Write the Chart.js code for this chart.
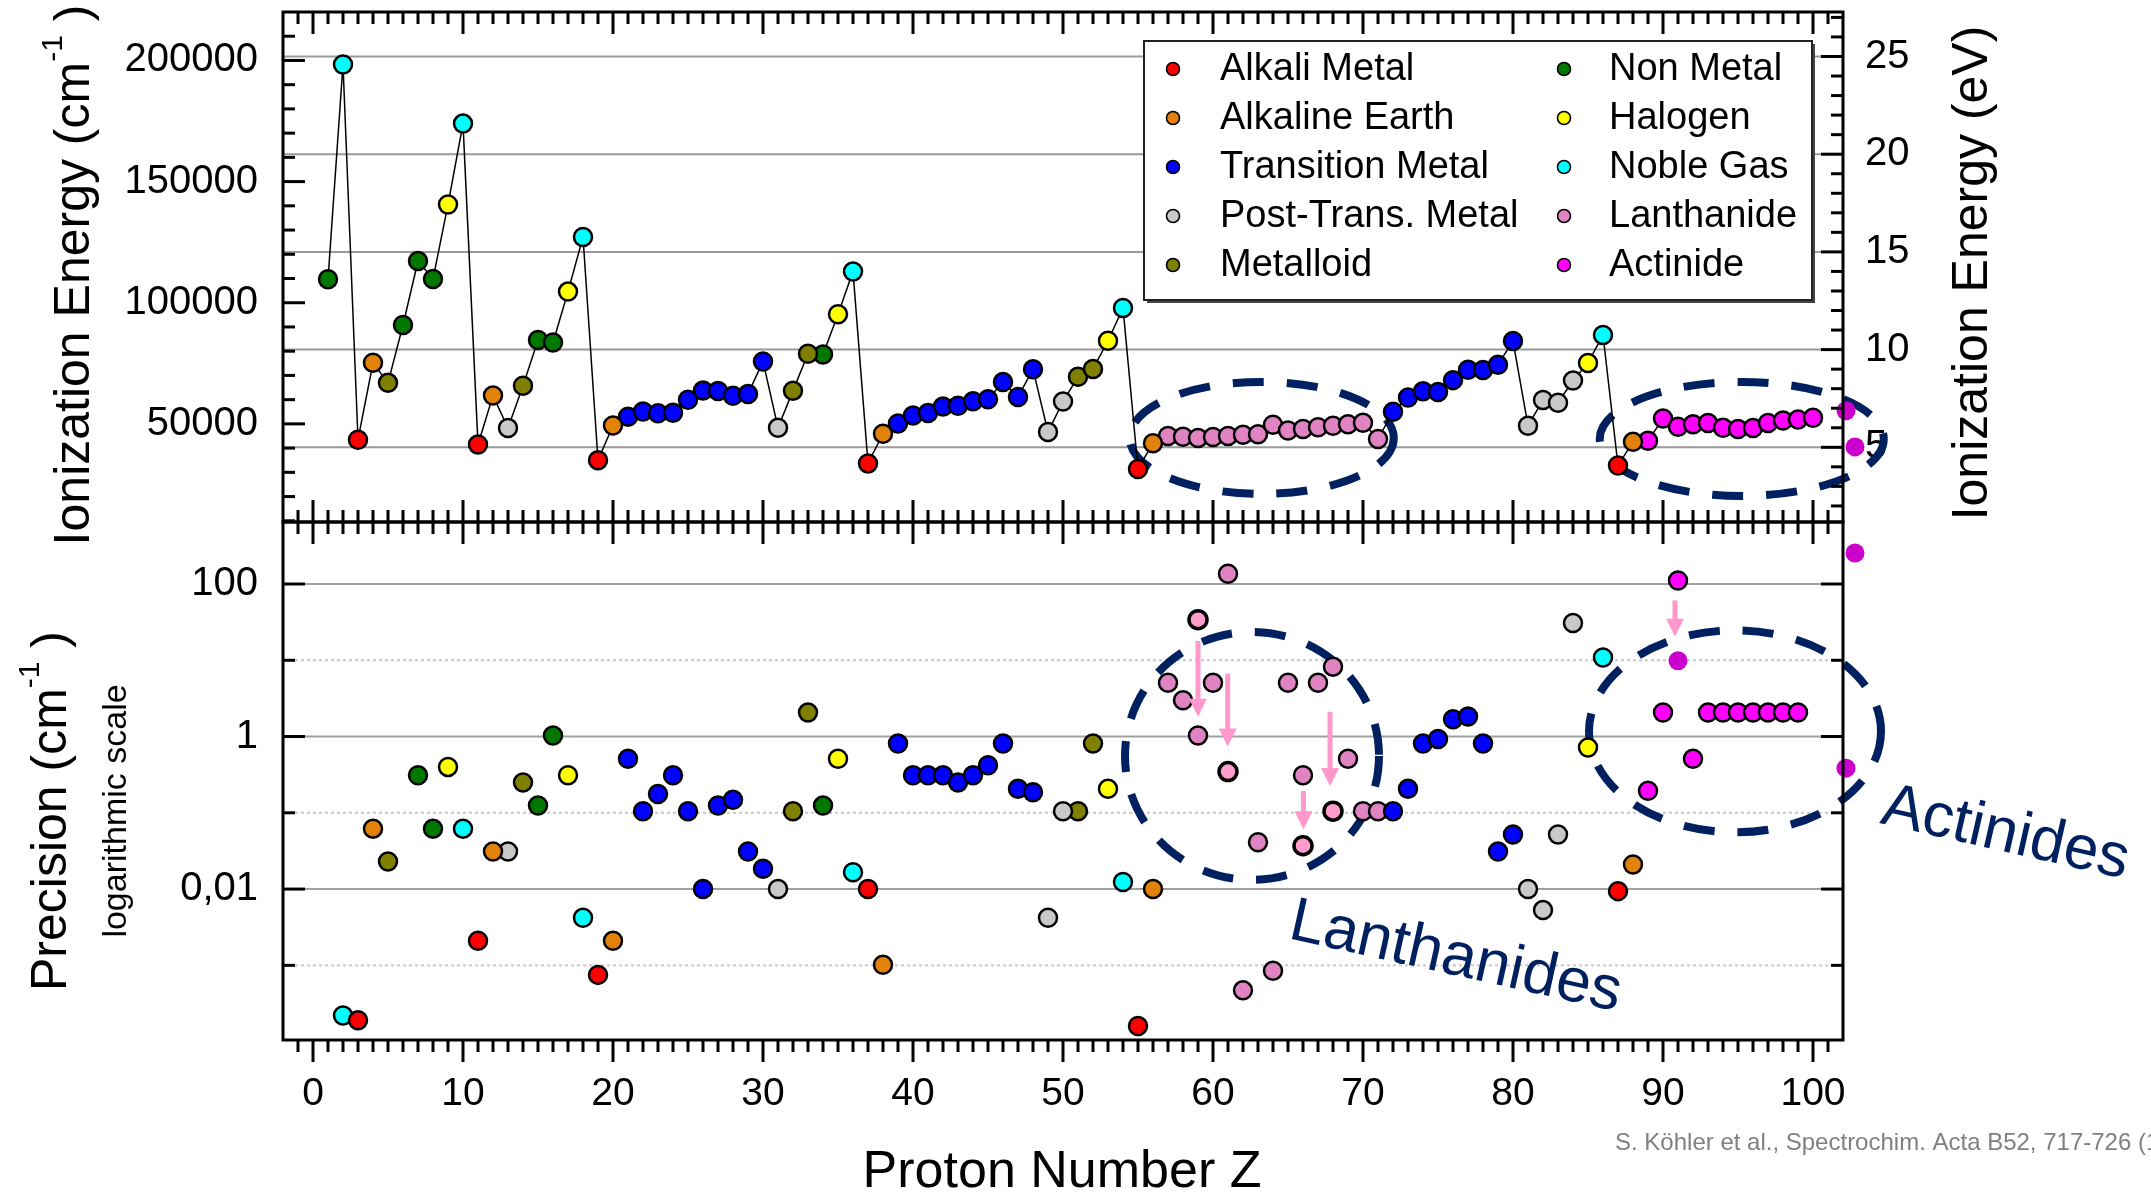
<!DOCTYPE html>
<html>
<head>
<meta charset="utf-8">
<script src="https://cdn.jsdelivr.net/npm/chart.js@4.4.0/dist/chart.umd.min.js"></script>
<style>
  html, body { margin: 0; padding: 0; background: #fff; }
  #wrap { position: relative; width: 2151px; height: 1196px; overflow: hidden; background: #fff; }
  #wrap canvas { position: absolute; left: 0; top: 0; }
</style>
</head>
<body>
<div id="wrap">
  <canvas id="precisionChart" width="2151" height="1196"></canvas>
  <canvas id="energyChart" width="2151" height="1196"></canvas>
</div>
<script>
// first ionization energy (cm-1) for Z = 1 .. 100
const ionizationEnergy = [
  109679, 198311, 43487, 75193, 66928, 90820, 117226, 109837, 140525, 173930,
  41449, 61671, 48278, 65748, 84581, 83559, 104591, 127110, 35010, 49306,
  52922, 55072, 54412, 54576, 59960, 63737, 63565, 61619, 62317, 75769,
  48388, 63713, 78950, 78658, 95284, 112915, 33691, 45932, 50146, 53507,
  54513, 57204, 57500, 59366, 60160, 67236, 61106, 72540, 46670, 59232,
  69431, 72670, 84295, 97834, 31406, 42035, 44981, 44672, 44140, 44562,
  45020, 45520, 45735, 49601, 47295, 47902, 48567, 49262, 49880, 50443,
  43763, 55048, 60891, 63428, 63182, 68058, 72324, 72258, 74409, 84184,
  49266, 59819, 58762, 67896, 75150, 86693, 32849, 42573, 43000, 52200,
  48800, 49800, 50400, 48400, 47900, 48300, 50400, 51400, 51800, 52500
];

// measurement precision (cm-1) for Z = 1 .. 100, null = not measured
const precision = [
  null, 2.2e-4, 1.9e-4, 0.062, 0.023, null, 0.31, 0.062, 0.40, 0.062,
  0.0021, 0.031, 0.031, 0.25, 0.125, 1.03, 0.31, 0.0042, 7.5e-4, 0.0021,
  0.51, 0.105, 0.176, 0.31, 0.105, 0.010, 0.125, 0.148, 0.031, 0.0185,
  0.010, 0.105, 2.07, 0.125, 0.51, 0.0166, 0.010, 0.00102, 0.81, 0.31,
  0.31, 0.31, 0.25, 0.31, 0.42, 0.81, 0.206, 0.186, 0.0042, 0.105,
  0.105, 0.81, 0.206, 0.0124, 1.6e-4, 0.010, 5.06, 3.0, 1.03, 5.06,
  136, 4.7e-4, 0.041, 8.5e-4, 5.06, 0.31, 5.06, 8.25, 0.51, 0.105,
  0.105, 0.105, 0.206, 0.81, 0.93, 1.68, 1.83, 0.81, 0.031, 0.052,
  0.010, 0.0053, 0.052, 30.9, 0.72, 10.9, 0.0094, 0.021, 0.195, 2.07,
  111, 0.51, 2.07, 2.07, 2.07, 2.07, 2.07, 2.07, 2.07, null
];

// element family for Z = 1 .. 100
const family = [
  'nm','ng','am','ae','md','nm','nm','nm','ha','ng',
  'am','ae','pt','md','nm','nm','ha','ng','am','ae',
  'tm','tm','tm','tm','tm','tm','tm','tm','tm','tm',
  'pt','md','md','nm','ha','ng','am','ae','tm','tm',
  'tm','tm','tm','tm','tm','tm','tm','tm','pt','pt',
  'md','md','ha','ng','am','ae','la','la','la','la',
  'la','la','la','la','la','la','la','la','la','la',
  'la','tm','tm','tm','tm','tm','tm','tm','tm','tm',
  'pt','pt','pt','pt','ha','ng','am','ae','ac','ac',
  'ac','ac','ac','ac','ac','ac','ac','ac','ac','ac'
];

const categoryKeys = ['am', 'ae', 'tm', 'pt', 'md', 'nm', 'ha', 'ng', 'la', 'ac'];
const categoryNames = ['Alkali Metal', 'Alkaline Earth', 'Transition Metal', 'Post-Trans. Metal', 'Metalloid',
                       'Non Metal', 'Halogen', 'Noble Gas', 'Lanthanide', 'Actinide'];

// newer precision values
const revisedZ = [59, 61, 66, 68];
const revisedPrecision = [34.1, 0.347, 0.037, 0.105];
const actinideNewZ = [91];
const actinideNewPrecision = [9.85];

// loose points at the right edge
const edgeTopZ = [102.8, 102.2];
const edgeTopEnergy = [40500, 55400];
const edgeBottomZ = [102.8, 102.2];
const edgeBottomPrecision = [255, 0.385];

const xTickValues = [0, 10, 20, 30, 40, 50, 60, 70, 80, 90, 100];
const xTickLabels = ['0', '10', '20', '30', '40', '50', '60', '70', '80', '90', '100'];
const energyTickValues = [50000, 100000, 150000, 200000];
const energyTickLabels = ['50000', '100000', '150000', '200000'];
const evTickValues = [5, 10, 15, 20, 25];
const evTickLabels = ['5', '10', '15', '20', '25'];
const precisionTickValues = [0.01, 1, 100];
const precisionTickLabels = ['0,01', '1', '100'];

const CM_PER_EV = 8065.544;
const ENERGY_MIN = 9500, ENERGY_MAX = 220000;
const FONT = "'Liberation Sans', Arial, sans-serif";
const NAVY = '#002060';
const ARROW_PINK = '#ff99cc';

const familyColors = {
  am: '#ff0000', ae: '#e3820b', tm: '#0000ff', pt: '#c8c8c8', md: '#7f7f00',
  nm: '#007800', ha: '#ffff00', ng: '#00ffff', la: '#e083c3', ac: '#ff00ff'
};

Chart.defaults.font.family = FONT;
Chart.defaults.color = '#000';

function line(ctx, x1, y1, x2, y2) {
  ctx.beginPath();
  ctx.moveTo(x1, y1);
  ctx.lineTo(x2, y2);
  ctx.stroke();
}

function drawFrame(ctx, a) {
  ctx.save();
  ctx.strokeStyle = '#000';
  ctx.lineWidth = 3;
  ctx.strokeRect(a.left, a.top, a.right - a.left, a.bottom - a.top);
  ctx.restore();
}

// proton-number ticks along a horizontal edge; dir 1 = downward, -1 = upward
function drawXTicks(ctx, xs, yEdge, dir) {
  ctx.save();
  ctx.strokeStyle = '#000';
  ctx.lineWidth = 3;
  for (let v = Math.ceil(xs.min) + 1; v < xs.max; v++) {
    const px = xs.getPixelForValue(v);
    const len = xTickValues.includes(v) ? 22 : 12;
    line(ctx, px, yEdge, px, yEdge + dir * len);
  }
  ctx.restore();
}

// vertical ticks; dir 1 = rightward, -1 = leftward
function drawYTicks(ctx, scale, xEdge, dir, values, len) {
  ctx.save();
  ctx.strokeStyle = '#000';
  ctx.lineWidth = 3;
  values.forEach(v => {
    const py = scale.getPixelForValue(v);
    line(ctx, xEdge, py, xEdge + dir * len, py);
  });
  ctx.restore();
}

// parts: [text, size, rise]; x,y = baseline point at the centre of the text
function drawTitle(ctx, parts, x, y, rotated, color) {
  ctx.save();
  let total = 0;
  parts.forEach(p => { ctx.font = p[1] + 'px ' + FONT; total += ctx.measureText(p[0]).width; });
  ctx.translate(x, y);
  if (rotated) ctx.rotate(-Math.PI / 2);
  ctx.fillStyle = color || '#000';
  ctx.textAlign = 'left';
  ctx.textBaseline = 'alphabetic';
  let cx = -total / 2;
  parts.forEach(p => {
    ctx.font = p[1] + 'px ' + FONT;
    ctx.fillText(p[0], cx, -(p[2] || 0));
    cx += ctx.measureText(p[0]).width;
  });
  ctx.restore();
}

function drawEllipse(ctx, cx, cy, rx, ry) {
  ctx.save();
  ctx.strokeStyle = NAVY;
  ctx.lineWidth = 8;
  ctx.setLineDash([31, 23]);
  ctx.beginPath();
  ctx.ellipse(cx, cy, rx, ry, 0, 0, Math.PI * 2);
  ctx.stroke();
  ctx.restore();
}

function drawArrow(ctx, x, y1, y2) {
  const head = 18, half = 9;
  ctx.save();
  ctx.strokeStyle = ARROW_PINK;
  ctx.fillStyle = ARROW_PINK;
  ctx.lineWidth = 5;
  line(ctx, x, y1, x, y2 - head + 2);
  ctx.beginPath();
  ctx.moveTo(x - half, y2 - head);
  ctx.lineTo(x + half, y2 - head);
  ctx.lineTo(x, y2);
  ctx.closePath();
  ctx.fill();
  ctx.restore();
}

function drawSlantedText(ctx, text, x, y, deg) {
  ctx.save();
  ctx.translate(x, y);
  ctx.rotate(deg * Math.PI / 180);
  ctx.font = '62px ' + FONT;
  ctx.fillStyle = NAVY;
  ctx.textBaseline = 'alphabetic';
  ctx.fillText(text, 0, 0);
  ctx.restore();
}

function pointStyle(color, radius, border) {
  return {
    backgroundColor: color, borderColor: '#000',
    pointBackgroundColor: color, pointBorderColor: '#000',
    pointRadius: radius, pointHoverRadius: radius,
    pointBorderWidth: border, pointHoverBorderWidth: border
  };
}

// points just past the right border: a large hover radius keeps them
// inside the area test that Chart.js runs before drawing a point
function edgeStyle() {
  return Object.assign(pointStyle('#cc00cc', 9.5, 0), { pointHoverRadius: 30, clip: false });
}

function familyPoints(values, key) {
  return values.map((v, i) => ({ x: i + 1, y: v }))
    .filter((p, i) => family[i] === key && p.y !== null);
}

function pairs(xs, ys) {
  return xs.map((x, i) => ({ x: x, y: ys[i] }));
}

// fixed axis box size, no extra padding for half labels
function fixWidth(w) {
  return s => { s.width = w; s.paddingTop = 0; s.paddingBottom = 0; };
}

// ---- upper panel: ionization energy ----
const energyDecor = {
  id: 'energyDecor',
  beforeDatasetsDraw(chart) {
    const { ctx, chartArea: a, scales } = chart;
    const xs = scales.x, ys = scales.y;
    ctx.save();
    ctx.strokeStyle = '#9a9a9a';
    ctx.lineWidth = 2;
    evTickValues.forEach(v => {
      const py = scales.y2.getPixelForValue(v);
      line(ctx, a.left, py, a.right, py);
    });
    ctx.restore();

    drawEllipse(ctx, xs.getPixelForValue(63.25), ys.getPixelForValue(44200), 132, 56);
    drawEllipse(ctx, xs.getPixelForValue(95.25), ys.getPixelForValue(43800), 142, 57);
  },
  afterDatasetsDraw(chart) {
    const { ctx, chartArea: a, scales } = chart;
    const xs = scales.x, ys = scales.y, ev = scales.y2;

    drawFrame(ctx, a);
    drawXTicks(ctx, xs, a.top, 1);
    drawXTicks(ctx, xs, a.bottom, -1);

    const minorEnergy = [];
    for (let v = 10000; v <= 210000; v += 10000) if (!energyTickValues.includes(v)) minorEnergy.push(v);
    drawYTicks(ctx, ys, a.left, 1, energyTickValues, 22);
    drawYTicks(ctx, ys, a.left, 1, minorEnergy, 12);
    const minorEv = [];
    for (let v = 2; v <= 27; v++) if (!evTickValues.includes(v)) minorEv.push(v);
    drawYTicks(ctx, ev, a.right, -1, evTickValues, 22);
    drawYTicks(ctx, ev, a.right, -1, minorEv, 12);

    // legend, two columns of five
    const box = { left: 1144, top: 41, right: 1812, bottom: 300 };
    ctx.save();
    ctx.fillStyle = '#444';
    ctx.fillRect(box.left + 3, box.top + 3, box.right - box.left, box.bottom - box.top);
    ctx.fillStyle = '#fff';
    ctx.fillRect(box.left, box.top, box.right - box.left, box.bottom - box.top);
    ctx.strokeStyle = '#222';
    ctx.lineWidth = 2;
    ctx.strokeRect(box.left, box.top, box.right - box.left, box.bottom - box.top);
    ctx.font = '38px ' + FONT;
    ctx.textBaseline = 'middle';
    categoryNames.forEach((name, k) => {
      const col = Math.floor(k / 5), row = k % 5;
      const my = 69 + row * 49;
      const mx = col === 0 ? 1173 : 1564;
      ctx.beginPath();
      ctx.arc(mx, my, 6.5, 0, Math.PI * 2);
      ctx.fillStyle = familyColors[categoryKeys[k]];
      ctx.fill();
      ctx.lineWidth = 1.6;
      ctx.strokeStyle = '#000';
      ctx.stroke();
      ctx.fillStyle = '#000';
      ctx.fillText(name, col === 0 ? 1220 : 1609, my + 1);
    });
    ctx.restore();

    drawTitle(ctx, [['Ionization Energy (cm', 50], ['-1', 30, 27], [' )', 50]], 89, 275, true);
    drawTitle(ctx, [['Ionization Energy (eV)', 50]], 1987, 273, true);
  }
};

const energyDatasets = categoryKeys.map(key => Object.assign({
  label: key,
  data: familyPoints(ionizationEnergy, key)
}, pointStyle(familyColors[key], 9, 2.5)));

energyDatasets.push(Object.assign({
  label: 'edge',
  data: pairs(edgeTopZ, edgeTopEnergy)
}, edgeStyle()));

energyDatasets.push({
  label: 'trend',
  data: ionizationEnergy.map((v, i) => ({ x: i + 1, y: v })),
  showLine: true,
  borderColor: '#000',
  borderWidth: 1.5,
  pointRadius: 0,
  pointHoverRadius: 0
});

new Chart(document.getElementById('energyChart'), {
  type: 'scatter',
  data: { datasets: energyDatasets },
  options: {
    responsive: false,
    animation: false,
    devicePixelRatio: 1,
    events: [],
    layout: { autoPadding: false, padding: { left: 0, right: 0, top: 12, bottom: 1196 - 522 } },
    plugins: { legend: { display: false }, tooltip: { enabled: false } },
    scales: {
      x: { type: 'linear', min: -2, max: 102, display: false },
      y: {
        type: 'linear', position: 'left', min: ENERGY_MIN, max: ENERGY_MAX,
        grid: { display: false, drawTicks: false }, border: { display: false },
        ticks: {
          padding: 25, font: { size: 40 }, autoSkip: false,
          callback: v => energyTickLabels[energyTickValues.indexOf(v)] || ''
        },
        afterBuildTicks: s => { s.ticks = energyTickValues.map(v => ({ value: v })); },
        afterFit: fixWidth(283)
      },
      y2: {
        type: 'linear', position: 'right', min: ENERGY_MIN / CM_PER_EV, max: ENERGY_MAX / CM_PER_EV,
        grid: { display: false, drawTicks: false }, border: { display: false },
        ticks: {
          padding: 22, font: { size: 40 }, autoSkip: false,
          callback: v => evTickLabels[evTickValues.indexOf(v)] || ''
        },
        afterBuildTicks: s => { s.ticks = evTickValues.map(v => ({ value: v })); },
        afterFit: fixWidth(2151 - 1843)
      }
    }
  },
  plugins: [energyDecor]
});

// ---- lower panel: precision, log scale ----
const precisionDecor = {
  id: 'precisionDecor',
  beforeDatasetsDraw(chart) {
    const { ctx, chartArea: a, scales } = chart;
    const xs = scales.x, ys = scales.y;
    ctx.save();
    ctx.lineWidth = 2;
    ctx.strokeStyle = '#a0a0a0';
    precisionTickValues.forEach(v => {
      const py = ys.getPixelForValue(v);
      line(ctx, a.left, py, a.right, py);
    });
    ctx.strokeStyle = '#c8c8c8';
    ctx.setLineDash([3, 3]);
    [0.001, 0.1, 10].forEach(v => {
      const py = ys.getPixelForValue(v);
      line(ctx, a.left, py, a.right, py);
    });
    ctx.restore();

    drawEllipse(ctx, xs.getPixelForValue(62.6), ys.getPixelForValue(0.557), 127, 124);
    drawEllipse(ctx, xs.getPixelForValue(94.8), ys.getPixelForValue(1.17), 146, 101);
  },
  afterDatasetsDraw(chart) {
    const { ctx, chartArea: a, scales } = chart;
    const xs = scales.x, ys = scales.y;

    drawFrame(ctx, a);
    drawXTicks(ctx, xs, a.top, 1);
    drawXTicks(ctx, xs, a.bottom, 1);
    drawYTicks(ctx, ys, a.left, 1, precisionTickValues, 22);
    drawYTicks(ctx, ys, a.left, 1, [0.001, 0.1, 10], 12);
    drawYTicks(ctx, ys, a.right, -1, precisionTickValues, 22);
    drawYTicks(ctx, ys, a.right, -1, [0.001, 0.1, 10], 12);

    // old -> new value arrows
    [[59, 17.9, 1.82], [60.98, 6.68, 0.743], [67.8, 2.11, 0.224], [66.03, 0.193, 0.061], [90.8, 61, 20.3]]
      .forEach(m => drawArrow(ctx, xs.getPixelForValue(m[0]), ys.getPixelForValue(m[1]), ys.getPixelForValue(m[2])));

    drawSlantedText(ctx, 'Lanthanides', 1287, 938, 12.5);
    drawSlantedText(ctx, 'Actinides', 1879, 823, 12.8);

    drawTitle(ctx, [['Precision (cm', 50], ['-1', 30, 27], [' )', 50]], 66, 811, true);
    drawTitle(ctx, [['logarithmic scale', 34]], 126, 811, true);
    drawTitle(ctx, [['Proton Number Z', 52]], 1062, 1187, false);

    ctx.save();
    ctx.font = '24px ' + FONT;
    ctx.fillStyle = '#808080';
    ctx.textBaseline = 'alphabetic';
    ctx.fillText('S. K\u00f6hler et al., Spectrochim. Acta B52, 717-726 (1997)', 1615, 1150);
    ctx.restore();
  }
};

const precisionDatasets = categoryKeys.map(key => Object.assign({
  label: key,
  data: familyPoints(precision, key)
}, pointStyle(familyColors[key], 9, 2.5)));

precisionDatasets.push(Object.assign({
  label: 'revised',
  data: pairs(revisedZ, revisedPrecision)
}, pointStyle('#ff9ccc', 9, 3.5)));

precisionDatasets.push(Object.assign({
  label: 'actinide new',
  data: pairs(actinideNewZ, actinideNewPrecision)
}, pointStyle('#cc00cc', 9.5, 0)));

precisionDatasets.push(Object.assign({
  label: 'edge',
  data: pairs(edgeBottomZ, edgeBottomPrecision)
}, edgeStyle()));

new Chart(document.getElementById('precisionChart'), {
  type: 'scatter',
  data: { datasets: precisionDatasets },
  options: {
    responsive: false,
    animation: false,
    devicePixelRatio: 1,
    events: [],
    layout: { autoPadding: false, padding: { left: 0, right: 2151 - 1843, top: 522, bottom: 0 } },
    plugins: { legend: { display: false }, tooltip: { enabled: false } },
    scales: {
      x: {
        type: 'linear', min: -2, max: 102,
        grid: { display: false, drawTicks: false }, border: { display: false },
        ticks: {
          padding: 31, font: { size: 39 }, autoSkip: false, maxRotation: 0,
          callback: v => xTickLabels[xTickValues.indexOf(v)] || ''
        },
        afterBuildTicks: s => { s.ticks = xTickValues.map(v => ({ value: v })); },
        afterFit: s => { s.height = 1196 - 1040; s.paddingLeft = 0; s.paddingRight = 0; }
      },
      y: {
        type: 'logarithmic', position: 'left', min: 1.05e-4, max: 650,
        grid: { display: false, drawTicks: false }, border: { display: false },
        ticks: {
          padding: 25, font: { size: 40 }, autoSkip: false,
          callback: v => precisionTickLabels[precisionTickValues.indexOf(v)] || ''
        },
        afterBuildTicks: s => { s.ticks = precisionTickValues.map(v => ({ value: v })); },
        afterFit: fixWidth(283)
      }
    }
  },
  plugins: [precisionDecor]
});
</script>
</body>
</html>
